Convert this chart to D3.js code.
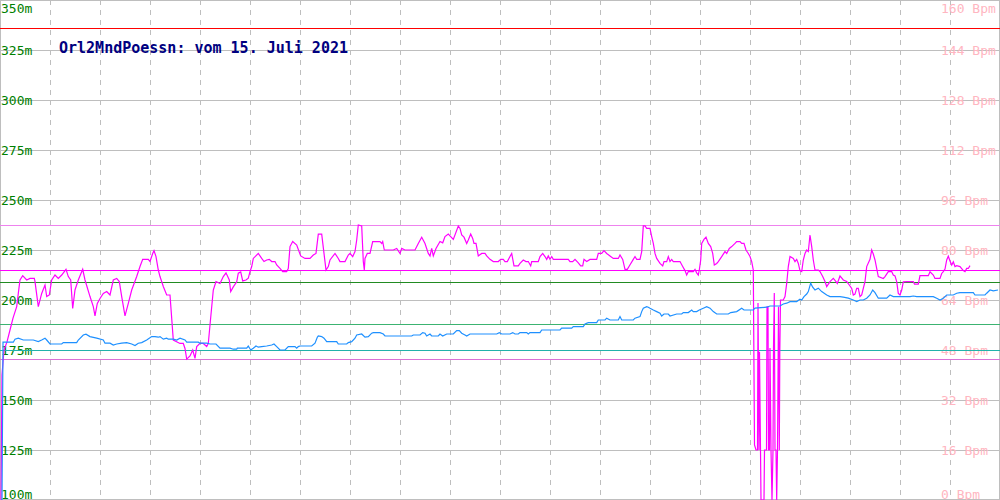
<!DOCTYPE html>
<html>
<head>
<meta charset="utf-8">
<script src="https://cdn.jsdelivr.net/npm/d3@7"></script>
<style>
  html, body { margin: 0; padding: 0; background: #fff; }
  svg { display: block; }
</style>
</head>
<body>
<svg id="chart" width="1000" height="500"></svg>
<script>
// ---------------- DATA ----------------
const titleText = "Orl2MndPoessn: vom 15. Juli 2021";

// left axis ticks (metres) and right axis ticks (Bpm)
const leftTicks = [100, 125, 150, 175, 200, 225, 250, 275, 300, 325, 350];
const rightTicks = [0, 16, 32, 48, 64, 80, 96, 112, 128, 144, 160];
const xGridTicks = [50, 100, 150, 200, 250, 300, 350, 400, 450, 500, 550, 600, 650, 700, 750, 800, 850, 900, 950];

// reference lines
const bpmRefValues = [151, 88, 73.5, 45.1];   // limit, max, avg, min of pulse
const mRefValues = [209, 188, 175];           // max, avg, min of blue series

// magenta series: [sample, Bpm]
const pulseSeries = [
[1,0],[2,40],[4,48],[7,50.6],[10,54.4],[13,58.2],[16.7,61.9],[18.3,66.1],[20,70.4],[22.7,71.8],[26.7,70.4],[30,70.9],[34.3,70.9],[35,69.9],[38.3,61.9],[41.7,66.1],[45,68.8],[46.7,65.1],[49.3,65.6],[51.7,70.4],[55,72],[58.3,70.9],[61.7,72],[66,73.8],[68.3,71.5],[70.7,70.4],[72.7,61.3],[75,67.2],[78.3,70.4],[82.7,73.8],[85,70.4],[90,65.1],[93.3,61.9],[95,58.9],[97.3,62.9],[100,64.5],[103.3,66.1],[106.7,66.7],[110,65.6],[113.3,70.4],[116.7,70.9],[119.3,69.9],[121.7,65.1],[125,58.9],[128.3,62.9],[131.7,67.2],[136.7,71.5],[140,74.7],[142.7,77.0],[148.3,77.0],[150,76.3],[152.7,78.9],[154,79.8],[156,77.9],[158.3,73.6],[160,71.5],[163.3,68.3],[166.7,65.6],[170,65.6],[173.3,51.2],[180,50.1],[183.3,50.1],[185,48.5],[186.7,45.1],[190,46.1],[192.7,48],[195,45.3],[196.7,49.1],[200,50.1],[203.3,50.1],[206.7,49.1],[208.3,50.1],[210,56],[213.3,67.2],[216,69.9],[220,69.3],[223.3,71.5],[226,72.7],[229.3,70.4],[230.7,66.7],[233.3,68.2],[236.7,69.8],[238.3,72.6],[240.7,73.0],[242.7,70.1],[246,70.4],[248.3,71.0],[250,73.1],[251.7,74.7],[253.3,77.3],
[258.3,78.9],[261.7,77.3],[264,76.3],[266.7,76.8],[269.3,77.0],[271.7,76.3],[275,76.3],[276.7,75.2],[280,74.1],[282.7,73.1],[286.7,73.1],[288.3,74.1],[290,81.1],[292.7,82.7],[296.7,81.6],[300.7,78.1],[305,77.3],[310,77.3],[313.3,78.4],[316,78.9],[318.3,85.1],[321.7,85.1],[324,78.9],[326,73.6],[328.3,74.7],[330,76.8],[335,78.9],[338.3,77.3],[340,76.3],[345,76.3],[348.3,78.4],[350,78.9],[352.7,77.9],[355,79.5],[356.7,83.2],[358.3,88],[361.7,87.7],[363.3,76.3],[364.3,73.6],[365,77.3],[367.3,78.9],[370,78.9],[372.7,82.7],[380,82.7],[381.7,82.1],[382.7,82.7],[384.3,80],[393.3,80],[396.7,80.5],[400,78.9],[401.7,80.5],[405,80],[415,80],[418.3,82.1],[421.7,84.1],[425,82.1],[428.3,78.9],[430,78.1],[431.7,80.5],[433.3,78.1],[436,80.5],[440,82.7],[442.7,82.3],[445,84.3],[448.3,85.1],[450.7,84.3],[453.3,83.4],[458.3,87.7],
[460,86.9],[461.7,84.8],[464,84.1],[466.7,82.1],[468.3,83.2],[470.7,85.1],[472.7,83.7],[474,82.1],[476,82.1],[478.3,78.1],[481.7,78.9],[485,78.9],[486.7,78.1],[490,77.0],[493.3,76.3],[498.3,76.3],[500.7,77.0],[503.3,77.0],[505,76.3],[507.3,76.3],[510,77.9],[511.7,78.9],[514,74.9],[518.3,74.9],[520,75.7],[523.3,76.8],[526,76.3],[528.3,76.3],[530.7,74.9],[531.7,76.3],[538.3,76.3],[540,77.9],[542.7,78.9],[545,77.9],[546.7,77.0],[548.3,78.1],[550,77.0],[551.7,77.9],[553.3,77.0],[568.3,77.0],[570,76.3],[572.7,76.3],[575,77.0],[578.3,75.9],[580.7,74.9],[582.7,74.9],[584,77.0],[586.7,76.3],[590,77.0],[596.7,77.0],[598.3,78.9],[601.7,78.9],[604,79.8],[606.7,78.9],[610,78.1],[613.3,77.3],[618.3,77.3],[620,78.4],[622.7,77.0],[625,73.8],[627.3,73.8],[629.3,74.9],[633.3,77.0],[635,77.9],[636.7,77.0],[640,77.0],[641.7,79.5],[643.3,87.7],[645,87.7],[646.7,86.9],[650,86.9],[651.7,84.3],[653.3,82.1],[655,78.9],[656.7,77.3],[660,75.7],[662.7,74.9],[664,76.3],[666.7,76.3],[668.3,77.9],[670,76.3],[671.7,77.0],[673.3,76.3],[680,76.3],[682.7,74.7],[685,73.4],[686.7,72],[688.3,73.1],[693.3,73.1],[695,73.8],[696.7,72.7],[698.3,72],[699.3,73.6],[700.7,76.8],[701.7,82.1],[704,83.4],[706,84.1],[708.3,82.1],[710.7,81.1],[712.7,78.9],[714.3,75.2],[716.7,75.7],[718.3,76.3],[721.7,77.9],[725,79.5],[726.7,78.9],[729.3,80.5],[731.7,81.1],[735,82.1],[736.7,82.7],[740,82.7],[741.7,82.1],[744,82.1],[746,80],[748.3,78.9],[750,77.9],[751.7,76.3],[753.3,73.6],
[754.5,17.6],[756,16],[757.5,16],[758,63],[759,16],[759.5,47.4],[760.5,16],[761,0],[764,0],[764.5,16],[766.5,16],[767,61.8],[768,61.8],[768.5,16],[769.5,16],[770,48.6],[771,16],[772,0],[773,16],[773.5,48.6],[774.3,66.2],[775,16],[776,16],[776.7,0],[777.5,16],[778.5,61.8],[779.3,16],[779.8,47.4],[780.5,64],[783.3,64],
[785,65.1],[786.7,69.3],[788.3,74.7],[790,77.9],[793.3,77.3],[795,76.3],[796.7,77.0],[798.3,75.7],[800,73.4],[801.7,73.1],[803.3,76.8],[805,78.9],[806.7,80],[808.3,79.5],[810,84.8],[811.7,81.1],[813.3,76.8],[815,73.6],[818.3,73.6],[820,73.1],[822.7,71.5],[825,69.9],[826.7,68.3],[830,69.9],[833.3,70.9],[836,69.9],[837.3,69.3],[840,71.7],[843.3,70.4],[846.7,69.9],[849.3,68.8],[851.7,67.7],[853.3,65.6],[855,65.9],[856.7,67.7],[858.3,67.7],[860,65.1],[861.7,65.6],[863.3,67.7],[865,69.9],[866.7,74.7],[870,77.0],[871.7,80],[873.3,78.7],[875,76.8],[878.3,71.5],[883.3,70.9],[885,71.5],[888.3,73.1],[891.7,73.1],[893.3,72],[895,71.7],[896.7,69.9],[898.3,66.1],[900,65.6],[901.7,67.2],[903.3,69.8],[906.7,69.9],[913.3,69.9],[914.5,69.1],[918.3,69.1],[920,71.8],[928.3,71.8],[930,73.0],[933.3,72],[935,70.9],[940,70.9],[941.7,72.5],[943.3,73.1],[945,73.9],[946.7,76.8],[948.3,78.0],[950,76.5],[951.7,75.2],[953.3,76.2],[955,74.7],[956.7,75.0],[960,74.7],[963.3,73.4],[965,73.1],[966.7,74.1],[968.3,74.1],[970,75.0]
];

// blue series: [sample, metres]
const blueSeries = [
[1,100],[2,100],[3,178.9],[13.3,178.9],[15,180.4],[18.3,180.9],[23.3,180],[33.3,180],[38.3,179.2],[41.7,180],[45,180.9],[46.7,180],[50,178],[61.7,178],[63.3,178.7],[76.7,178.7],[78.3,180],[83.3,182.5],[86,182.9],[90,181.7],[96.7,180.9],[103.3,180],[105,178.4],[110,178.4],[113.3,177.5],[116.7,178],[121.7,178.4],[126.7,178.7],[131.7,178],[135,177.2],[138.3,178.4],[141.7,178.7],[146.7,180],[151.7,181.7],[155,181.7],[158.3,181.4],[160,181.7],[163.3,180.4],[166.7,180.9],[168.3,180.4],[173.3,180.4],[176.7,180],[180,180.9],[185,180],[186.7,178.9],[198.3,178.9],[200,178.4],[206.7,178.4],[210,178],[216,178],[220,175.9],[230,175.9],[233.3,175.4],[236.7,175.4],[237.3,175.9],[246.7,175.9],[248.3,177],[250.7,175],[253.3,175.9],[256,177],[258.3,176.4],[261.7,176.7],[266.7,177],[271.7,177.5],[274,178],[276.7,176.7],[280,175],[285,175],[288.3,176.7],[295,176.7],[296.7,175.9],[298.3,176.7],[300,177],[311.7,177],[315,178.4],[317.3,181.4],[318.3,182],[321.7,181.7],[324,180.9],[326.7,179.2],[336.7,179.2],[338.3,178],[346.7,178],[348.3,178.7],[351.7,179.2],[355,180.9],[356.7,182.5],[361.7,183],[365,181.4],[368.3,181.7],[371.7,183.4],[373.3,183.7],[380,183.7],[383.3,183],[385,182],[411.7,182],[413.3,182.5],[420,182.5],[422.7,183.7],[425,183.4],[426.7,182],[430,183],[431.7,182],[438.3,182],[440,183],[442.7,182],[446.7,183],[453.3,183],[456.7,184.7],[459.3,184.7],
[461.7,183.4],[465,182.5],[466.7,182],[470,183],[496.7,183],[499.3,183.7],[501.7,183],[510,183],[512.7,183.7],[515,183],[518.3,183],[520,183.7],[526.7,183.7],[528.3,183],[530,183.7],[540,183.7],[541.7,185],[560,185],[561.7,185.9],[571.7,185.9],[573.3,186.7],[583.3,186.7],[585,188],[588.3,188.7],[596.7,188.7],[598.3,190],[605,190],[606.7,190.9],[610,190],[618.3,190],[620,191.7],[621.7,190],[633.3,190],[635,190.9],[640,191.7],[641.7,194.2],[643.3,195.9],[646.7,196.7],[648.3,196.4],[650,195.9],[653.3,195],[656.7,194.2],[660,193.4],[661.7,192],[664,193],[668.3,193],[670,192],[676.7,193],[681.7,193],[683.3,193.7],[688.3,193.7],[691.7,195],[693.3,194.2],[696.7,194.2],[699.3,195],[703.3,195.9],[706.7,196.7],[710,195.9],[713.3,194.2],[716.7,193],[728.3,193],[730.7,193.7],[736.7,194.2],[741.7,195.9],[744,195],[753.3,195],[755,195.9],[766.7,196.4],[770,197],[780,197],[783.3,198],[786.7,198.4],[790,199.2],[796.7,199.2],[800,200.4],[801.7,200],[804,201.7],[806.7,203],[808.3,204.2],[810.7,208.4],[812.7,206.4],[815,205],[818.3,205.9],[821.7,204.2],[826.7,202.5],[830,201.7],[840,201.7],[843.3,201.4],[848.3,200.9],[853.3,200],[856.7,199.2],[860,200],[863.3,200],[866.7,200.9],[870,202.5],[872.7,205],[875,203.7],[878.3,200.9],[886.7,200.9],[890,202.5],[893.3,201.7],[910,201.7],[913.3,202],[916.7,201.7],[933.3,201.7],[936.7,200.9],[940,200],[943.3,200.9],[946.7,202.5],[953.3,202.5],[956.7,203.4],[960,203.7],[973.3,203.7],[975,202.5],[985,202.5],[986.7,203.4],[990,205],[993.3,204.6],[998,205]
];

// ---------------- CHART ----------------
const W = 1000, H = 500;
const svg = d3.select("#chart");

const x = d3.scaleLinear().domain([0, 1000]).range([0, W]);
const yM = d3.scaleLinear().domain([100, 350]).range([H, 0]);
const yB = d3.scaleLinear().domain([0, 160]).range([H, 0]);

const gridColor = "#bebebe";
const font = "'DejaVu Sans Mono', 'Liberation Mono', monospace";
const snap = v => Math.min(Math.round(v), H - 1) + 0.5;

// horizontal grid
svg.append("g").selectAll("line").data(leftTicks).join("line")
  .attr("x1", 0).attr("x2", W)
  .attr("y1", d => snap(yM(d))).attr("y2", d => snap(yM(d)))
  .attr("stroke", gridColor).attr("stroke-width", 1)
  .attr("shape-rendering", "crispEdges");

// vertical dashed grid
svg.append("g").selectAll("line").data(xGridTicks).join("line")
  .attr("x1", d => Math.round(x(d)) + 0.5).attr("x2", d => Math.round(x(d)) + 0.5)
  .attr("y1", 0).attr("y2", H)
  .attr("stroke", gridColor).attr("stroke-width", 1)
  .attr("stroke-dasharray", "5,5")
  .attr("shape-rendering", "crispEdges");

// frame
svg.append("rect").attr("x", 0.5).attr("y", 0.5).attr("width", W - 1).attr("height", H - 1)
  .attr("fill", "none").attr("stroke", gridColor).attr("shape-rendering", "crispEdges");

// left tick labels
svg.append("g").selectAll("text").data(leftTicks).join("text")
  .attr("x", 1)
  .attr("y", d => Math.max(12.5, Math.min(yM(d) + 4.5, 498.5)))
  .attr("fill", "#008000")
  .attr("font-family", font).attr("font-size", 13)
  .text(d => d + "m");

// right tick labels
svg.append("g").selectAll("text").data(rightTicks).join("text")
  .attr("x", 941)
  .attr("y", d => Math.max(12.5, Math.min(yB(d) + 4.5, 498.5)))
  .attr("fill", "#ffb6c1")
  .attr("font-family", font).attr("font-size", 13)
  .text(d => d + " Bpm");

// reference lines
const bpmRefColors = ["#ff0000", "#ee82ee", "#ff00ff", "#da70d6"];
const mRefColors = ["#228b22", "#3cb371", "#20b2aa"];
svg.append("g").selectAll("line").data(bpmRefValues).join("line")
  .attr("x1", 0).attr("x2", W)
  .attr("y1", d => snap(yB(d))).attr("y2", d => snap(yB(d)))
  .attr("stroke", (d, i) => bpmRefColors[i]).attr("stroke-width", 1.3)
  .attr("shape-rendering", "crispEdges");
svg.append("g").selectAll("line").data(mRefValues).join("line")
  .attr("x1", 0).attr("x2", W)
  .attr("y1", d => snap(yM(d))).attr("y2", d => snap(yM(d)))
  .attr("stroke", (d, i) => mRefColors[i]).attr("stroke-width", 1.3)
  .attr("shape-rendering", "crispEdges");

// series lines
const linePulse = d3.line().x(d => x(d[0])).y(d => yB(d[1]));
const lineBlue = d3.line().x(d => x(d[0])).y(d => yM(d[1]));

svg.append("path").datum(pulseSeries)
  .attr("d", linePulse)
  .attr("fill", "none").attr("stroke", "#ff00ff").attr("stroke-width", 1.2)
  .attr("stroke-linejoin", "miter");

svg.append("path").datum(blueSeries)
  .attr("d", lineBlue)
  .attr("fill", "none").attr("stroke", "#1e90ff").attr("stroke-width", 1.2)
  .attr("stroke-linejoin", "miter");

// title
svg.append("text")
  .attr("x", 59).attr("y", 53)
  .attr("fill", "#000080")
  .attr("font-family", font).attr("font-size", 15).attr("font-weight", "bold")
  .text(titleText);
</script>
</body>
</html>
